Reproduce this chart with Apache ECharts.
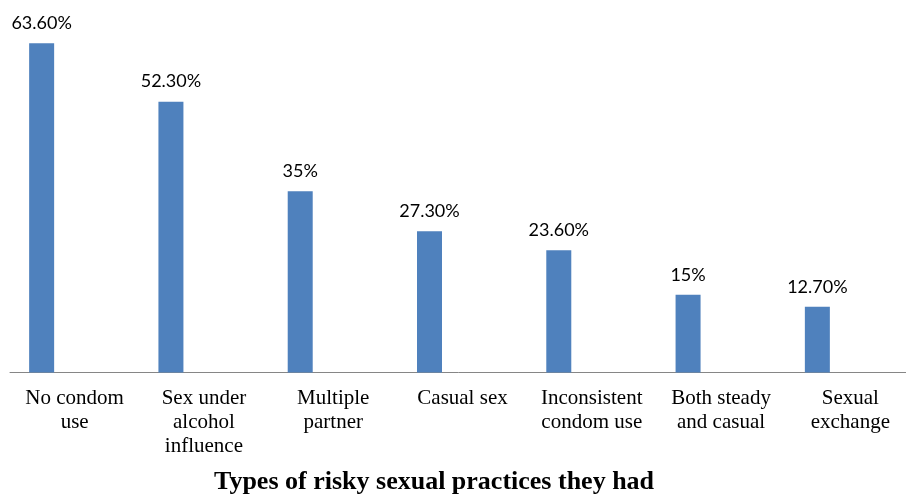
<!DOCTYPE html>
<html>
<head>
<meta charset="utf-8">
<script src="https://cdn.jsdelivr.net/npm/echarts@6/dist/echarts.min.js"></script>
<style>
  html, body { margin: 0; padding: 0; background: #fff; }
  #chart { width: 906px; height: 501px; }
</style>
</head>
<body>
<div id="chart"></div>
<script>
// categories (line breaks as in the picture)
var practices = [
  'No condom\nuse',
  'Sex under\nalcohol\ninfluence',
  'Multiple\npartner',
  'Casual sex',
  'Inconsistent\ncondom use',
  'Both steady\nand casual',
  'Sexual\nexchange'
]
// percent values
var percents = [63.6, 52.3, 35, 27.3, 23.6, 15, 12.7]
// printed labels
var percentLabels = ['63.60%', '52.30%', '35%', '27.30%', '23.60%', '15%', '12.70%']

var chart = echarts.init(document.getElementById('chart'))
var option = {
  backgroundColor: '#fff',
  animation: false,
  title: {
    text: 'Types of risky sexual practices they had',
    left: 214,
    top: 469,
    padding: 0,
    textStyle: {
      fontFamily: 'Liberation Serif',
      fontSize: 26,
      fontWeight: 'bold',
      color: '#000'
    }
  },
  // plot runs a little past the right edge, as in the original
  grid: {
    left: 10,
    width: 905,
    top: 10,
    bottom: 128.5,
    outerBoundsMode: 'none'
  },
  xAxis: {
    type: 'category',
    data: practices,
    axisLine: { lineStyle: { color: '#868686', width: 1 } },
    axisTick: { show: false },
    axisLabel: {
      interval: 0,
      margin: 14,
      fontFamily: 'Liberation Serif',
      fontSize: 21,
      lineHeight: 24,
      color: '#000'
    }
  },
  yAxis: {
    type: 'value',
    min: 0,
    max: 70,
    show: false,
    splitLine: { show: false }
  },
  series: [
    {
      type: 'bar',
      data: percents,
      barWidth: 25,
      barGap: '164%',
      itemStyle: { color: '#4F81BD' },
      label: {
        show: true,
        position: 'top',
        distance: 11,
        fontFamily: 'Lato',
        fontSize: 18,
        color: '#000',
        //标签文字
        formatter: function (p) {
          return percentLabels[p.dataIndex]
        }
      }
    },
    {
      // empty second series keeps the bars left of centre
      type: 'bar',
      data: [],
      barWidth: 25
    }
  ]
}
chart.setOption(option, true)
</script>
</body>
</html>
